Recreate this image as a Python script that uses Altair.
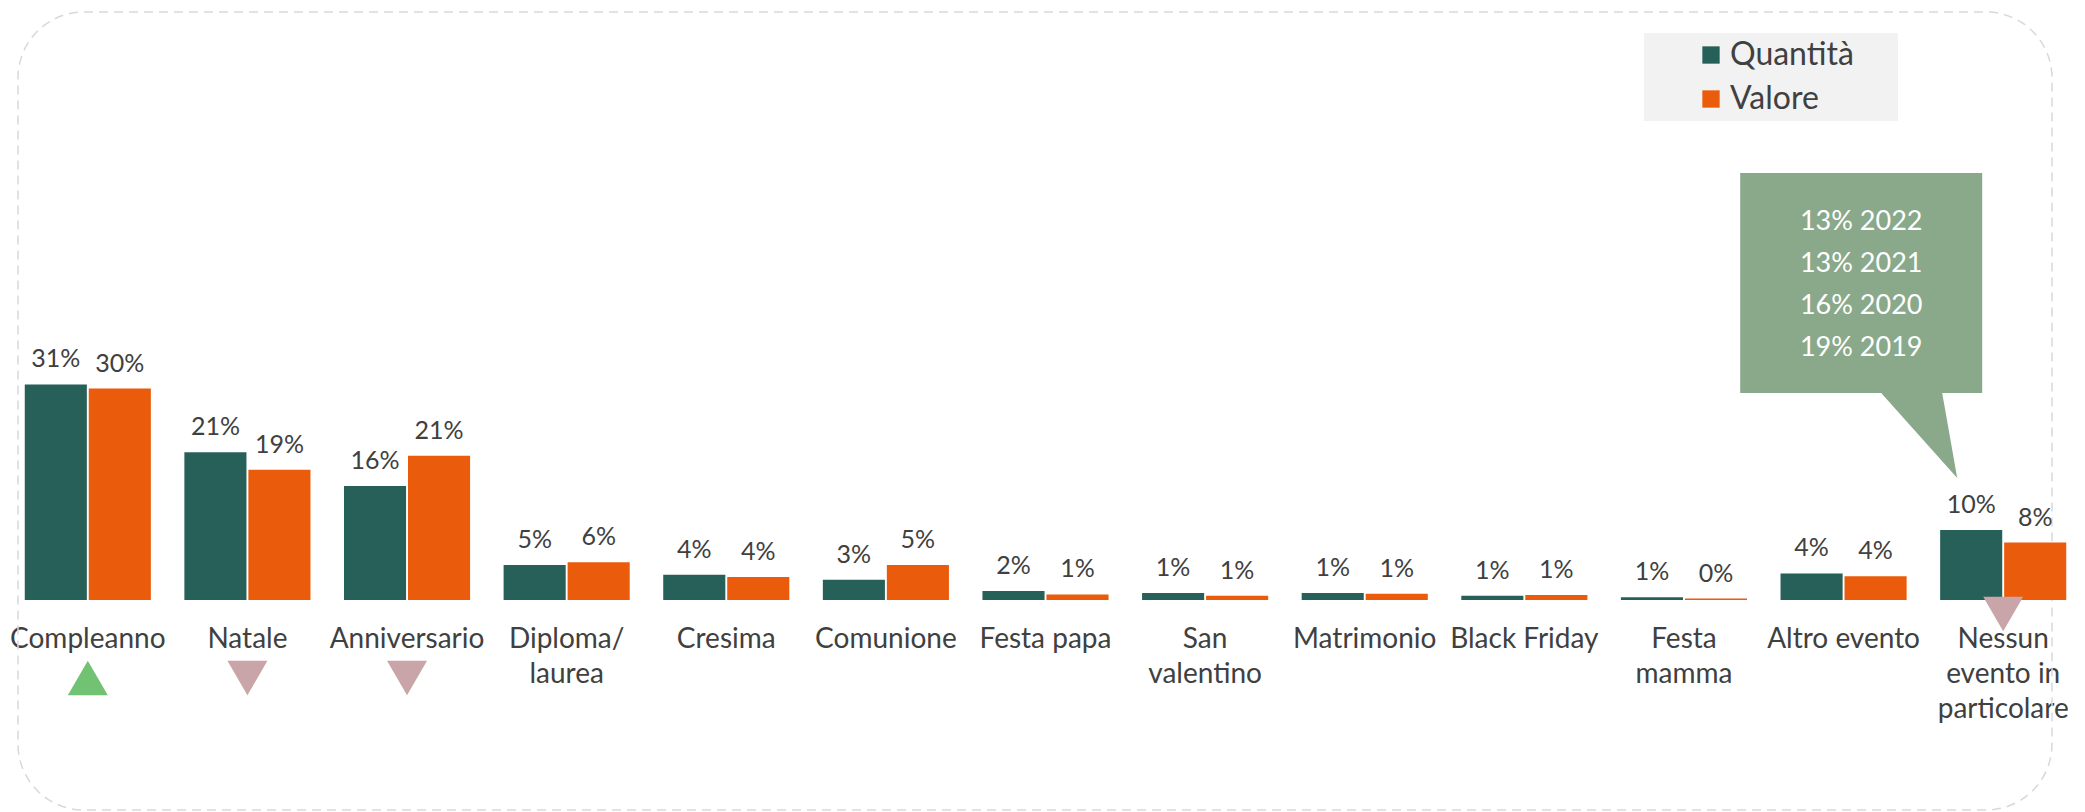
import altair as alt
import pandas as pd

# ---------------- data ----------------
CATEGORIES = [
    "Compleanno", "Natale", "Anniversario", "Diploma/|laurea", "Cresima",
    "Comunione", "Festa papa", "San|valentino", "Matrimonio", "Black Friday",
    "Festa|mamma", "Altro evento", "Nessun|evento in|particolare",
]
SERIES = ["Quantità", "Valore"]
COLORS = ["#275f59", "#ea5b0c"]

QUANTITA = [30.8, 21.1, 16.3, 5.0, 3.6, 2.9, 1.3, 1.0, 1.0, 0.6, 0.4, 3.8, 10.0]
VALORE = [30.2, 18.6, 20.6, 5.4, 3.3, 5.0, 0.8, 0.6, 0.9, 0.7, 0.2, 3.4, 8.2]
QTY_LABELS = [31, 21, 16, 5, 4, 3, 2, 1, 1, 1, 1, 4, 10]
VAL_LABELS = [30, 19, 21, 6, 4, 5, 1, 1, 1, 1, 0, 4, 8]

TREND = ["up", "down", "down", None, None, None, None, None, None, None, None, None, "down"]

HIST_PCT = [13, 13, 16, 19]
HIST_YEARS = [2022, 2021, 2020, 2019]

FONT = "Lato"
TEXT_COLOR = "#404040"

rows = []
for i, c in enumerate(CATEGORIES):
    rows.append({"cat": c, "serie": SERIES[0], "pct": QUANTITA[i], "label": f"{QTY_LABELS[i]}%"})
    rows.append({"cat": c, "serie": SERIES[1], "pct": VALORE[i], "label": f"{VAL_LABELS[i]}%"})
df = pd.DataFrame(rows)

trend_df = pd.DataFrame({"cat": CATEGORIES, "trend": TREND}).dropna()

anchor_df = pd.DataFrame({
    "cat": [CATEGORIES[-1]],
    "pct": [QUANTITA[-1]],
    "text": ["|".join(f"{p}% {y}" for p, y in zip(HIST_PCT, HIST_YEARS))],
})
one = pd.DataFrame({"a": [0]})

# ---------------- encodings ----------------
x_enc = alt.X(
    "cat:N",
    scale=alt.Scale(domain=CATEGORIES, paddingInner=0.21, paddingOuter=0.105),
    axis=alt.Axis(
        title=None, labelAngle=0, labelExpr="split(datum.label, '|')",
        labelFont=FONT, labelFontSize=28, labelColor=TEXT_COLOR,
        labelPadding=25, labelBaseline="top", labelLineHeight=35,
        ticks=False, domain=False, grid=False, labelLimit=400, labelOverlap=False,
    ),
)
y_enc = alt.Y("pct:Q", scale=alt.Scale(domain=[0, 85.714], nice=False, zero=True), axis=None)
xoff = alt.XOffset("serie:N", scale=alt.Scale(domain=SERIES, paddingInner=0.03, paddingOuter=0))

# ---------------- layers ----------------
border = alt.Chart(one).mark_rect(
    fill="transparent", stroke="#d5d9de", strokeWidth=1.5, strokeDash=[9, 6], cornerRadius=66
).encode(x=alt.value(10), x2=alt.value(2044), y=alt.value(12), y2=alt.value(810))

legend_bg = alt.Chart(one).mark_rect(fill="#f2f2f2").encode(
    x=alt.value(1636), x2=alt.value(1890), y=alt.value(33), y2=alt.value(121)
)

bars = alt.Chart(df).mark_bar().encode(
    x=x_enc, y=y_enc, xOffset=xoff,
    color=alt.Color(
        "serie:N", scale=alt.Scale(domain=SERIES, range=COLORS),
        legend=alt.Legend(
            orient="none", legendX=1687, legendY=39, title=None,
            symbolType="square", symbolSize=300, symbolStrokeWidth=0, symbolOpacity=1,
            labelFont=FONT, labelFontSize=32, labelColor=TEXT_COLOR,
            rowPadding=12, labelOffset=3, padding=0,
        ),
    ),
)

labels = alt.Chart(df).mark_text(
    dy=-17, baseline="alphabetic", align="center", font=FONT, fontSize=25, color=TEXT_COLOR
).encode(x=x_enc, y=y_enc, xOffset=xoff, text="label:N")

tri_up = alt.Chart(trend_df).transform_filter("datum.trend == 'up'").mark_point(
    shape="triangle-up", filled=True, size=1600, opacity=1, strokeWidth=0, color="#72c274"
).encode(x=x_enc, y=alt.value(678))

tri_down = alt.Chart(trend_df).transform_filter(
    f"datum.trend == 'down' && datum.cat != '{CATEGORIES[-1]}'"
).mark_point(
    shape="triangle-down", filled=True, size=1600, opacity=1, strokeWidth=0, color="#c9a4a8"
).encode(x=x_enc, y=alt.value(678))

tri_last = alt.Chart(trend_df).transform_filter(
    f"datum.trend == 'down' && datum.cat == '{CATEGORIES[-1]}'"
).mark_point(
    shape="triangle-down", filled=True, size=1600, opacity=1, strokeWidth=0, color="#c9a4a8"
).encode(x=x_enc, y=alt.value(614))

CALLOUT_PATH = "M-263,-357 L-21,-357 L-21,-137 L-61,-137 L-46,-52 L-122,-137 L-263,-137 Z"
callout = alt.Chart(anchor_df).mark_point(
    shape=CALLOUT_PATH, size=4, filled=True, fill="#8aa98a", opacity=1, strokeWidth=0
).encode(x=x_enc, y=y_enc)

callout_text = alt.Chart(anchor_df).mark_text(
    dx=-142, dy=-308, lineBreak="|", lineHeight=42, font=FONT, fontSize=27,
    color="white", align="center", baseline="middle",
).encode(x=x_enc, y=y_enc, text="text:N")

chart = alt.layer(
    border, legend_bg, bars, labels, tri_up, tri_down, tri_last, callout, callout_text
).properties(
    width=2075, height=600,
    padding={"left": 8, "top": 0, "right": 2, "bottom": 212},
    autosize=alt.AutoSizeParams(type="none"),
    background="white",
).configure_view(stroke=None)

chart.save("out.html", embed_options={"renderer": "svg", "actions": False})
